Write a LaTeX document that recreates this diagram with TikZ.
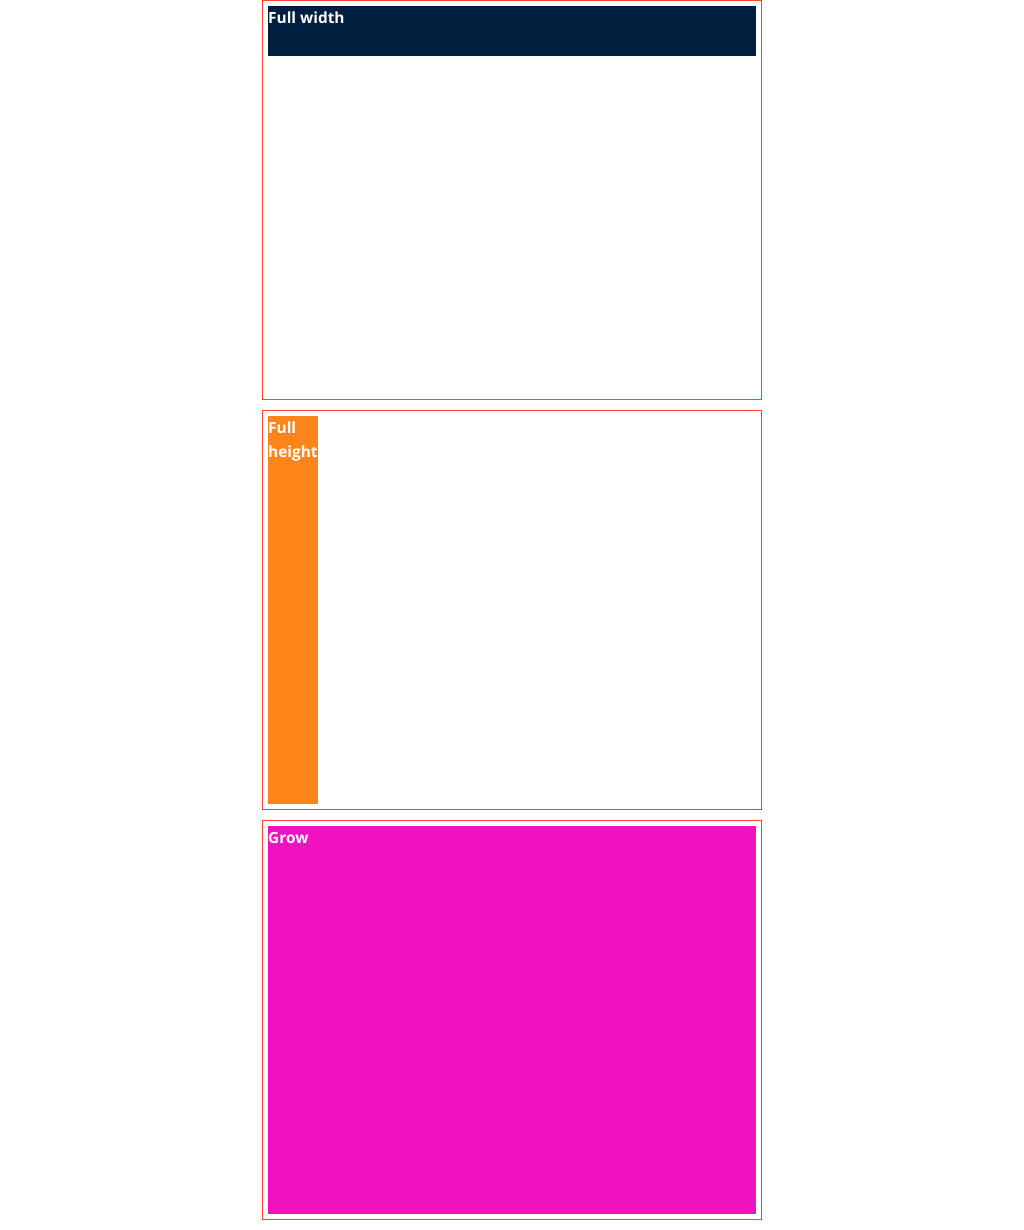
\documentclass[tikz,border=0pt]{standalone}
\usepackage{fontspec}
\setmainfont{Open Sans}
\usetikzlibrary{positioning}
\definecolor{boxred}{HTML}{FF4136}
\definecolor{navyblock}{HTML}{001F3F}
\definecolor{orangeblock}{HTML}{FF851B}
\definecolor{fuchsiablock}{HTML}{F012BE}

\begin{document}
\begin{tikzpicture}[x=1pt,y=-1pt,
  frame/.style={draw=boxred, line width=1pt, outer sep=0pt, inner sep=0pt,
    minimum width=499pt, minimum height=399pt},
  block/.style={inner sep=0pt, outer sep=0pt, draw=none},
  tag/.style={text=white, inner sep=0pt, align=left, anchor=base west,
    font=\fontsize{15.4}{24}\selectfont\bfseries}
]
  \useasboundingbox (0,0) rectangle (1024,1230);

  % outer frames
  \node[frame] (widebox) at (512,200) {};
  \node[frame] (tallbox) at (512,610) {};
  \node[frame] (growbox) at (512,1020) {};

  % coloured blocks
  \node[block, fill=navyblock, minimum width=488pt, minimum height=50pt,
    below right=5.5pt and 5.5pt of widebox.north west] (wide) {};
  \node[block, fill=orangeblock, minimum width=50pt, minimum height=388pt,
    below right=5.5pt and 5.5pt of tallbox.north west] (tall) {};
  \node[block, fill=fuchsiablock, minimum width=488pt, minimum height=388pt,
    below right=5.5pt and 5.5pt of growbox.north west] (grow) {};

  % labels (base = last line)
  \node[tag] (widetext) at ([yshift=-17.5pt]wide.north west) {Full width};
  \node[tag] (talltext) at ([yshift=-41.5pt]tall.north west) {Full\\height};
  \node[tag] (growtext) at ([yshift=-17.5pt]grow.north west) {Grow};
\end{tikzpicture}
\end{document}
